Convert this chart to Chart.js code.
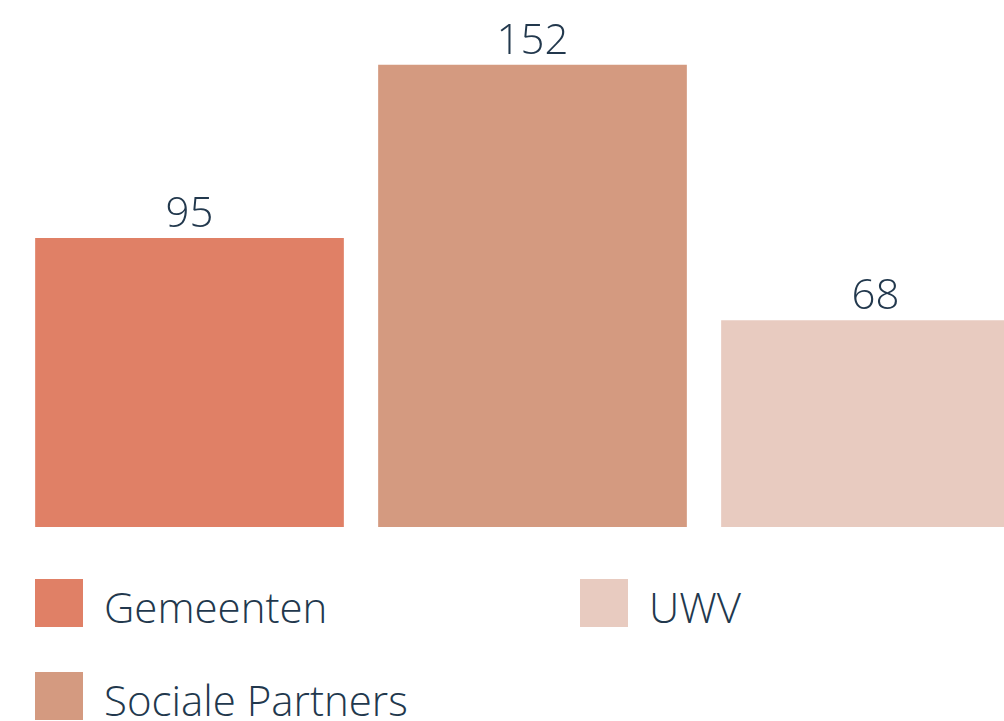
<!DOCTYPE html>
<html>
<head>
<meta charset="utf-8">
<script src="https://cdn.jsdelivr.net/npm/chart.js@4/dist/chart.umd.min.js"></script>
<style>
  html, body { margin: 0; padding: 0; background: #fff; overflow: hidden; }
  #wrap { position: absolute; left: 0; top: 0; width: 1047px; height: 527px; }
  .lg-item { position: absolute; height: 48px; }
  .lg-box { position: absolute; left: 0; top: 0; width: 48px; height: 48px; }
  .lg-text {
    position: absolute; left: 69px; top: 4px; white-space: nowrap;
    font-family: "Open Sans", sans-serif; font-weight: 300;
    font-size: 42px; line-height: 48px; color: #22384d;
  }
</style>
</head>
<body>
<div id="wrap"><canvas id="chart" width="1047" height="527"></canvas></div>
<div id="legend"></div>
<script>
// ------------------------------------------------------------
// DATA
// ------------------------------------------------------------
const categories = ["Gemeenten", "Sociale Partners", "UWV"];
const values = [95, 152, 68];
const barColors = ["#e08066", "#d49a80", "#e8cbc0"];

const TEXT_COLOR = "#22384d";
const FONT = "'Open Sans', sans-serif";

// Value labels above each bar
const valueLabels = {
    id: "valueLabels",
    afterDatasetsDraw(chart) {
        const c = chart.ctx;
        const meta = chart.getDatasetMeta(0);
        c.save();
        c.fillStyle = TEXT_COLOR;
        c.font = "300 42px " + FONT;
        c.textAlign = "center";
        c.textBaseline = "alphabetic";
        meta.data.forEach((bar, i) => {
            c.fillText(String(values[i]), bar.x, bar.y - 11);
        });
        c.restore();
    }
};

new Chart(document.getElementById("chart"), {
    type: "bar",
    data: {
        labels: categories,
        datasets: [{
            data: values,
            backgroundColor: barColors,
            borderWidth: 0,
            barPercentage: 0.9,
            categoryPercentage: 1
        }]
    },
    options: {
        responsive: false,
        animation: false,
        layout: { padding: { left: 18, right: 0, top: 0, bottom: 0 } },
        plugins: { legend: { display: false }, tooltip: { enabled: false } },
        scales: {
            x: { display: false },
            y: { display: false, min: 0, max: 173.3 }
        }
    },
    plugins: [valueLabels]
});

// Legend, column-major in two rows
const legendEl = document.getElementById("legend");
const colX = [35, 580];
const rowY = [579, 672];
categories.forEach((name, i) => {
    const col = i === 2 ? 1 : 0;
    const row = i === 1 ? 1 : 0;
    const item = document.createElement("div");
    item.className = "lg-item";
    item.style.left = colX[col] + "px";
    item.style.top = rowY[row] + "px";
    item.innerHTML = '<div class="lg-box" style="background:' + barColors[i] + '"></div>' +
        '<span class="lg-text">' + name + '</span>';
    legendEl.appendChild(item);
});
</script>
</body>
</html>
